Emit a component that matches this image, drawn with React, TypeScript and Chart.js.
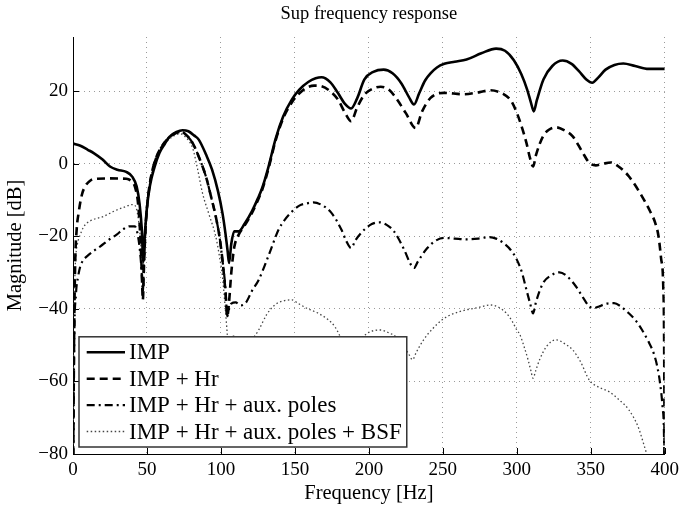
import React, { useEffect, useRef } from 'react';
import { Chart, registerables } from 'chart.js';

Chart.register(...registerables);

const titleText = 'Sup frequency response';
const xLabel = 'Frequency [Hz]';
const yLabel = 'Magnitude [dB]';
const xTicks = [0, 50, 100, 150, 200, 250, 300, 350, 400];
const yTicks = [-80, -60, -40, -20, 0, 20];
const seriesLabels = ['IMP', 'IMP + Hr', 'IMP + Hr + aux. poles', 'IMP + Hr + aux. poles + BSF'];

const impF = [0, 5, 10, 14, 20, 25, 30, 36, 40, 43, 45, 46.5, 47.5, 48.5, 50, 52, 55, 58.5, 62, 65, 70, 74, 78, 82, 85, 90, 94, 98, 101, 103, 104.5, 105.5, 107, 109, 112, 116, 121, 125, 128, 132, 137, 142, 148, 153, 159, 164, 168, 174, 179, 184, 188, 192, 197, 203, 210, 216, 222, 227, 230.5, 234, 238, 242, 246, 251, 258, 266, 276, 286, 292, 298, 303, 307, 309.5, 311.5, 313.5, 318, 324, 331, 337, 342, 347, 351, 355, 360, 366, 372, 380, 389, 395, 400];
const impDb = [5.6, 5.0, 3.9, 3.0, 1.2, -0.7, -1.6, -2.2, -3.5, -6.2, -11, -18, -27, -20, -12, -6, -1, 3.1, 5.5, 7.4, 8.8, 9.3, 9.0, 7.8, 6.7, 2.5, -1.6, -7.5, -13.5, -19, -24, -27.3, -22, -18.6, -18.6, -16.5, -13, -9.5, -6.5, -1, 7, 13, 17.8, 20.5, 22.6, 23.6, 23.9, 22.5, 19.6, 16.5, 15.3, 18, 23.3, 25.4, 26, 25, 22.2, 18.5, 16.4, 19.5, 23, 25.1, 26.6, 27.6, 28.2, 28.8, 30.5, 31.8, 31.2, 28.6, 24.8, 20.5, 17, 14.5, 17.5, 23.3, 27, 28.5, 27.6, 25.6, 23.3, 22.4, 23.8, 26, 27.3, 27.7, 27, 26.2, 26.2, 26.2];

const hrF = [0, 0.7, 1.5, 2.5, 3.8, 6, 8.2, 12, 16, 25, 36, 40, 42, 44, 45.5, 46.5, 47.2, 48, 49, 50.5, 53, 56, 60, 65, 70, 73, 76, 80.8, 85, 89.8, 93, 96.5, 99, 101, 103, 104.3, 105.5, 107, 109, 112, 116, 121, 125, 128, 132, 137, 142, 148, 152.3, 158, 163, 168, 174, 179, 184, 188, 192, 197, 203, 208, 214, 219, 225, 231.6, 236, 241.7, 250.7, 264, 275, 282, 290.9, 296, 300, 303.5, 306.5, 309, 311, 313, 317.7, 322, 326.6, 332, 337.8, 344, 349, 353.4, 358, 363.5, 369, 375.7, 384.7, 390, 393.6, 395.8, 397.5, 399, 399.6, 400];
const hrDb = [-95, -50, -27, -18, -13.5, -8.5, -6.2, -4.5, -4.1, -4, -4.1, -5, -6.5, -11, -20, -30, -37.5, -28, -18, -10, -3, 1.5, 4.8, 7.3, 8.6, 8.8, 8.2, 5.8, 2, -3.4, -8.5, -14.5, -20, -26.4, -35, -42, -38, -30, -23, -19.5, -17, -13.5, -10, -7, -1.5, 6.5, 12.5, 17, 19.2, 21, 21.6, 21.4, 20, 17.8, 14, 11.8, 15.5, 19.1, 20.8, 21.3, 20.3, 17.8, 14, 9.9, 14.5, 18.2, 19.6, 19.2, 19.8, 20.3, 19.3, 17.5, 14.1, 10, 5.8, 1.5, -0.7, 2.5, 7.6, 9.5, 10.1, 9.3, 7.6, 3.5, 0.3, -0.4, 0, 0.4, -0.8, -3.4, -9, -13, -16.3, -20, -26, -33.8, -50, -95];

const auxF = [0, 0.8, 2, 3.5, 4.9, 7, 9.4, 14, 18.3, 24, 29.5, 34, 38.4, 41.8, 43.5, 45, 46.3, 47.2, 48, 49, 50.5, 53, 56, 60, 65, 70, 73, 76, 80.8, 85, 89.8, 93, 96.5, 99, 101, 103, 104.3, 105.5, 107, 110, 113, 116.6, 121, 125.5, 132, 139, 143, 147.9, 153, 159, 162.4, 168, 174.7, 181.4, 185, 188, 191, 197, 202, 207, 212, 217, 223.9, 228, 230.5, 233, 239.5, 245, 250.7, 258, 266.3, 274, 280.8, 286, 290.9, 296, 300, 303.5, 306.5, 309, 311, 313, 317.7, 323, 328.8, 334, 340, 345, 349, 352, 355.6, 360, 365.7, 370, 375.7, 380, 384.7, 389, 392.5, 395, 397, 398.5, 399.5, 400];
const auxDb = [-95, -50, -36, -31, -28.3, -26.5, -25.5, -24, -22.8, -21, -19.5, -18, -17.2, -17.2, -19, -23, -29, -35, -27, -18, -10, -3, 1.5, 4.8, 7.3, 8.6, 8.8, 8.2, 5.8, 2, -3.4, -8.5, -14.5, -20, -26.4, -34, -42, -40, -38.5, -38.2, -39, -38.4, -35, -32, -25.5, -18.1, -15.5, -13.2, -11.5, -10.8, -10.6, -11.3, -13.5, -18.1, -21.5, -23.2, -21, -18.1, -16.6, -16.1, -16.8, -18.6, -23.7, -27.5, -28.7, -27, -23.2, -21.2, -20.4, -20.6, -20.8, -20.6, -20.2, -20.6, -21.8, -23.8, -26.4, -30, -34.7, -38.5, -41.2, -38, -32.9, -30.8, -29.9, -31, -33.8, -37, -39.3, -39.8, -39.3, -38.6, -38.4, -39.2, -41.2, -43, -45.8, -49, -52.2, -56, -61, -67, -75, -95];

const bsfF = [0, 0.6, 1.2, 2, 3, 4.9, 7, 9.4, 14, 20.5, 28, 36, 40, 42, 43.5, 45, 46.3, 47.2, 48, 49, 50.5, 53, 56, 60, 65, 70, 72.5, 75, 78, 80.8, 84, 87.5, 92, 96.5, 99, 101, 103, 104.3, 105.3, 106.5, 108, 111, 113, 116.6, 121, 125.5, 131, 136.7, 142, 147.9, 152.3, 158, 165.8, 172, 177, 181, 184, 186.5, 189, 193, 199, 203, 208, 213, 219, 224, 227, 229.5, 232, 237, 243, 249.5, 256, 266.3, 274, 282, 288, 293, 297, 300, 302, 305, 307.6, 309.5, 311, 312.8, 315.4, 320, 326.6, 332, 337.8, 343, 349, 355, 362.3, 369, 375.7, 382, 387, 391, 400];
const bsfDb = [-95, -45, -32, -25, -22, -19.5, -17.5, -16.3, -15.3, -14.5, -13, -11.7, -11.2, -11.5, -13.5, -18, -25, -30, -24, -16, -9, -3, 1, 4.3, 6.8, 8.1, 8.3, 7.8, 6.5, 4.5, -1, -8, -14, -20, -25.5, -31, -40.2, -47, -52, -50, -47.5, -48, -50, -50.4, -48.5, -45.8, -41.5, -38.8, -37.8, -37.5, -38.5, -39.8, -41.2, -42.8, -44.9, -48, -51.5, -53.2, -52, -49, -46.7, -46, -45.8, -46.5, -47.9, -50.5, -52.5, -54, -52, -48.5, -45.5, -43, -41.5, -40.2, -39.6, -38.9, -39.6, -41.2, -43.5, -45.8, -47, -50.5, -54, -57, -59.1, -57, -54, -50.4, -48.5, -49.5, -51.3, -54.5, -59.6, -61.5, -62.8, -65, -67.8, -72.5, -78.9, -84, -100];

const SERIF = "'Liberation Serif', 'Times New Roman', serif";

const toPoints = (fs: number[], vs: number[]) => fs.map((f, i) => ({ x: f, y: vs[i] }));
const fmt = (v: number) => (v < 0 ? '\u2212' + Math.abs(v) : String(v));

const decorPlugin = {
  id: 'decor',
  afterDatasetsDraw(chart: any) {
    const { ctx, chartArea } = chart;
    const { left, bottom } = chartArea;
    const xs = chart.scales.x;
    const ys = chart.scales.y;
    ctx.save();
    // inward ticks
    ctx.strokeStyle = '#000';
    ctx.lineWidth = 1;
    ctx.setLineDash([]);
    ctx.beginPath();
    xTicks.forEach((v) => {
      const px = Math.round(xs.getPixelForValue(v)) + 0.5;
      ctx.moveTo(px, bottom);
      ctx.lineTo(px, bottom - 6);
    });
    yTicks.forEach((v) => {
      const py = Math.round(ys.getPixelForValue(v)) + 0.5;
      ctx.moveTo(left, py);
      ctx.lineTo(left + 6, py);
    });
    ctx.stroke();

    // legend
    const fontSize = 23;
    ctx.font = `${fontSize}px ${SERIF}`;
    const labels = chart.data.datasets.map((d: any) => d.label);
    const textW = Math.max(...labels.map((l: string) => ctx.measureText(l).width));
    const rowH = 26.4;
    const sampleL = 7.7;
    const sampleW = 38.3;
    const gap = 4;
    const boxW = sampleL + sampleW + gap + textW + 5;
    const boxH = rowH * labels.length + 4.6;
    const bx = left + 6;
    const by = bottom - 7 - boxH;
    ctx.fillStyle = '#fff';
    ctx.fillRect(bx, by, boxW, boxH);
    ctx.strokeStyle = '#333';
    ctx.lineWidth = 1.5;
    ctx.strokeRect(bx, by, boxW, boxH);
    chart.data.datasets.forEach((d: any, i: number) => {
      const cy = by + 2.3 + rowH * (i + 0.5);
      ctx.save();
      ctx.strokeStyle = d.borderColor;
      ctx.lineWidth = d.borderWidth;
      ctx.setLineDash(d.borderDash || []);
      ctx.beginPath();
      ctx.moveTo(bx + sampleL, cy);
      ctx.lineTo(bx + sampleL + sampleW, cy);
      ctx.stroke();
      ctx.restore();
      ctx.fillStyle = '#000';
      ctx.textAlign = 'left';
      ctx.textBaseline = 'middle';
      ctx.fillText(d.label, bx + sampleL + sampleW + gap, cy + 1);
    });
    ctx.restore();
  },
  afterDraw(chart: any) {
    const { ctx, chartArea } = chart;
    ctx.save();
    ctx.font = `18.5px ${SERIF}`;
    ctx.fillStyle = '#000';
    ctx.textAlign = 'center';
    ctx.textBaseline = 'middle';
    ctx.fillText(titleText, (chartArea.left + chartArea.right) / 2, 14);
    ctx.restore();
  },
};

export default function App() {
  const ref = useRef<HTMLCanvasElement | null>(null);
  useEffect(() => {
    if (!ref.current) return;
    const tickFont = { family: SERIF, size: 19 };
    const chart = new Chart(ref.current, {
      type: 'line',
      data: {
        datasets: [
          { label: seriesLabels[0], data: toPoints(impF, impDb), borderColor: '#000', borderWidth: 2.6, borderDash: [], pointRadius: 0, cubicInterpolationMode: 'monotone', clip: 0 },
          { label: seriesLabels[1], data: toPoints(hrF, hrDb), borderColor: '#000', borderWidth: 2.6, borderDash: [8, 5], pointRadius: 0, cubicInterpolationMode: 'monotone', clip: 0 },
          { label: seriesLabels[2], data: toPoints(auxF, auxDb), borderColor: '#000', borderWidth: 2.2, borderDash: [8, 4, 2, 4], pointRadius: 0, cubicInterpolationMode: 'monotone', clip: 0 },
          { label: seriesLabels[3], data: toPoints(bsfF, bsfDb), borderColor: '#444', borderWidth: 1.3, borderDash: [1.5, 2.5], pointRadius: 0, cubicInterpolationMode: 'monotone', clip: 0 },
        ] as any,
      },
      options: {
        animation: false,
        responsive: false,
        maintainAspectRatio: false,
        parsing: false,
        layout: { padding: { top: 37, right: 14, left: 0, bottom: 0 } },
        plugins: { legend: { display: false }, title: { display: false }, tooltip: { enabled: false } },
        scales: {
          x: {
            type: 'linear',
            min: 0,
            max: 400,
            afterBuildTicks: (s: any) => { s.ticks = xTicks.map((v) => ({ value: v })); },
            afterFit: (s: any) => { s.height = 55; },
            ticks: { font: tickFont, color: '#000', padding: 5, maxRotation: 0, autoSkip: false, callback: (v: any) => fmt(Number(v)) },
            grid: { color: '#9a9a9a', lineWidth: 1, drawTicks: false },
            border: { display: true, color: '#000', width: 1, dash: [1, 4] },
            title: { display: true, text: xLabel, font: { family: SERIF, size: 20.5 }, color: '#000', padding: { top: 0, bottom: 3 } },
          },
          y: {
            type: 'linear',
            min: -80,
            max: 35,
            afterBuildTicks: (s: any) => { s.ticks = yTicks.map((v) => ({ value: v })); },
            afterFit: (s: any) => { s.width = 73; },
            ticks: { font: tickFont, color: '#000', padding: 5, autoSkip: false, callback: (v: any) => fmt(Number(v)) },
            grid: { color: '#9a9a9a', lineWidth: 1, drawTicks: false },
            border: { display: true, color: '#000', width: 1, dash: [1, 4] },
            title: { display: true, text: yLabel, font: { family: SERIF, size: 20.5 }, color: '#000', padding: { top: 3, bottom: 0 } },
          },
        },
      } as any,
      plugins: [decorPlugin],
    });
    return () => chart.destroy();
  }, []);
  return (
    <div style={{ position: 'fixed', left: 0, top: 0, width: 684, height: 509, background: '#fff' }}>
      <canvas ref={ref} width={684} height={509} style={{ width: 684, height: 509, display: 'block' }} />
    </div>
  );
}
